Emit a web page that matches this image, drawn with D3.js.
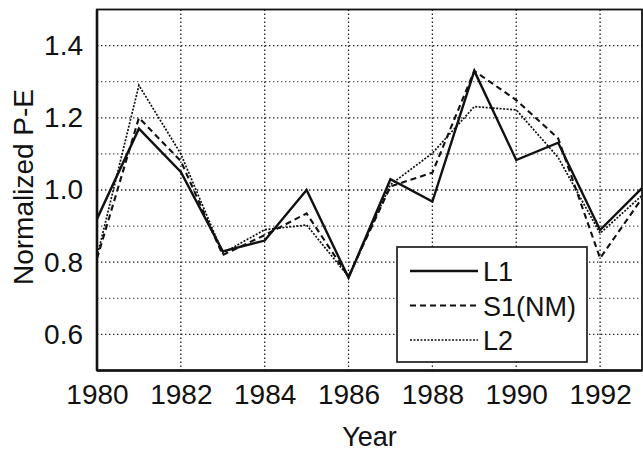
<!DOCTYPE html>
<html>
<head>
<meta charset="utf-8">
<script src="https://cdn.jsdelivr.net/npm/d3@7"></script>
<style>
  body { margin: 0; background: #fff; }
  text { font-family: "Liberation Sans", Arial, sans-serif; fill: #111; }
</style>
</head>
<body>
<script>
// data
const years = [1980, 1981, 1982, 1983, 1984, 1985, 1986, 1987, 1988, 1989, 1990, 1991, 1992, 1993];
const l1 = [0.92, 1.17, 1.05, 0.83, 0.86, 1.00, 0.757, 1.03, 0.968, 1.33, 1.083, 1.131, 0.889, 1.005];
const s1 = [0.81, 1.20, 1.08, 0.82, 0.875, 0.935, 0.76, 1.01, 1.048, 1.33, 1.249, 1.143, 0.811, 0.977];
const l2 = [0.815, 1.29, 1.10, 0.825, 0.89, 0.903, 0.76, 1.015, 1.102, 1.231, 1.222, 1.09, 0.88, 0.985];
const xTicks = [1980, 1982, 1984, 1986, 1988, 1990, 1992];
const yTicks = [0.6, 0.8, 1.0, 1.2, 1.4];
const yGrid = [0.6, 0.7, 0.8, 0.9, 1.0, 1.1, 1.2, 1.3, 1.4];

const series = [
    { name: 'L1', values: l1, width: 2.4, dash: null },
    { name: 'S1(NM)', values: s1, width: 2.1, dash: '6,4' },
    { name: 'L2', values: l2, width: 1.7, dash: '2,1.5' }
];

const W = 643, H = 454;
const margin = { top: 9.5, right: 1, bottom: 83.5, left: 97 };
const width = W - margin.left - margin.right;
const height = H - margin.top - margin.bottom;

const svg = d3.select('body').append('svg')
    .attr('width', W)
    .attr('height', H);

const g = svg.append('g')
    .attr('transform', `translate(${margin.left}, ${margin.top})`);

const x = d3.scaleLinear().domain([1980, 1993]).range([0, width]);
const y = d3.scaleLinear().domain([0.5, 1.5]).range([height, 0]);

// grid
g.append('g').selectAll('line').data(yGrid).join('line')
    .attr('x1', 0).attr('x2', width)
    .attr('y1', d => y(d)).attr('y2', d => y(d))
    .attr('stroke', d => yTicks.some(t => Math.abs(t - d) < 1e-6) ? '#222' : '#555')
    .attr('stroke-width', 1.3)
    .attr('stroke-dasharray', '1.4,2.6');

g.append('g').selectAll('line').data(xTicks.slice(1)).join('line')
    .attr('x1', d => x(d)).attr('x2', d => x(d))
    .attr('y1', 0).attr('y2', height)
    .attr('stroke', '#222')
    .attr('stroke-width', 1.3)
    .attr('stroke-dasharray', '1.4,2.6');

// axes (labels only, frame drawn separately)
const xAxis = d3.axisBottom(x).tickValues(xTicks).tickFormat(d3.format('d')).tickSize(0).tickPadding(14);
const gx = g.append('g').attr('transform', `translate(0, ${height})`).call(xAxis);
gx.select('.domain').remove();
gx.selectAll('text').attr('font-size', 28).attr('font-family', '"Liberation Sans", Arial, sans-serif').attr('fill', '#111');

const yAxis = d3.axisLeft(y).tickValues(yTicks).tickFormat(d3.format('.1f')).tickSize(0).tickPadding(14);
const gy = g.append('g').call(yAxis);
gy.select('.domain').remove();
gy.selectAll('text').attr('font-size', 28).attr('font-family', '"Liberation Sans", Arial, sans-serif').attr('fill', '#111');

// frame
g.append('rect')
    .attr('x', 0).attr('y', 0)
    .attr('width', width).attr('height', height)
    .attr('fill', 'none')
    .attr('stroke', '#111')
    .attr('stroke-width', 1.8);
g.append('line').attr('x1', 0).attr('x2', 0).attr('y1', 0).attr('y2', height)
    .attr('stroke', '#111').attr('stroke-width', 2.6);
g.append('line').attr('x1', 0).attr('x2', width).attr('y1', height).attr('y2', height)
    .attr('stroke', '#111').attr('stroke-width', 2.6);

// lines
const line = d3.line()
    .x((d, i) => x(years[i]))
    .y(d => y(d));

g.append('g').selectAll('path').data(series).join('path')
    .attr('d', d => line(d.values))
    .attr('fill', 'none')
    .attr('stroke', '#111')
    .attr('stroke-width', d => d.width)
    .attr('stroke-dasharray', d => d.dash)
    .attr('stroke-linejoin', 'miter');

// legend
const legend = svg.append('g').attr('transform', 'translate(397, 247)');
legend.append('rect')
    .attr('width', 190).attr('height', 115)
    .attr('fill', '#fff')
    .attr('stroke', '#111')
    .attr('stroke-width', 1.6);
const item = legend.selectAll('g.item').data(series).join('g')
    .attr('class', 'item')
    .attr('transform', (d, i) => `translate(0, ${24 + i * 34.5})`);
item.append('line')
    .attr('x1', 13).attr('x2', 81)
    .attr('stroke', '#111')
    .attr('stroke-width', d => d.width)
    .attr('stroke-dasharray', d => d.dash);
item.append('text')
    .attr('x', 86).attr('y', 10)
    .attr('font-size', 27)
    .text(d => d.name);

// axis titles
svg.append('text')
    .attr('x', margin.left + width / 2).attr('y', 446)
    .attr('text-anchor', 'middle')
    .attr('font-size', 27)
    .text('Year');

svg.append('text')
    .attr('transform', `translate(33, ${margin.top + height / 2 - 3}) rotate(-90)`)
    .attr('text-anchor', 'middle')
    .attr('font-size', 28)
    .text('Normalized P-E');
</script>
</body>
</html>
